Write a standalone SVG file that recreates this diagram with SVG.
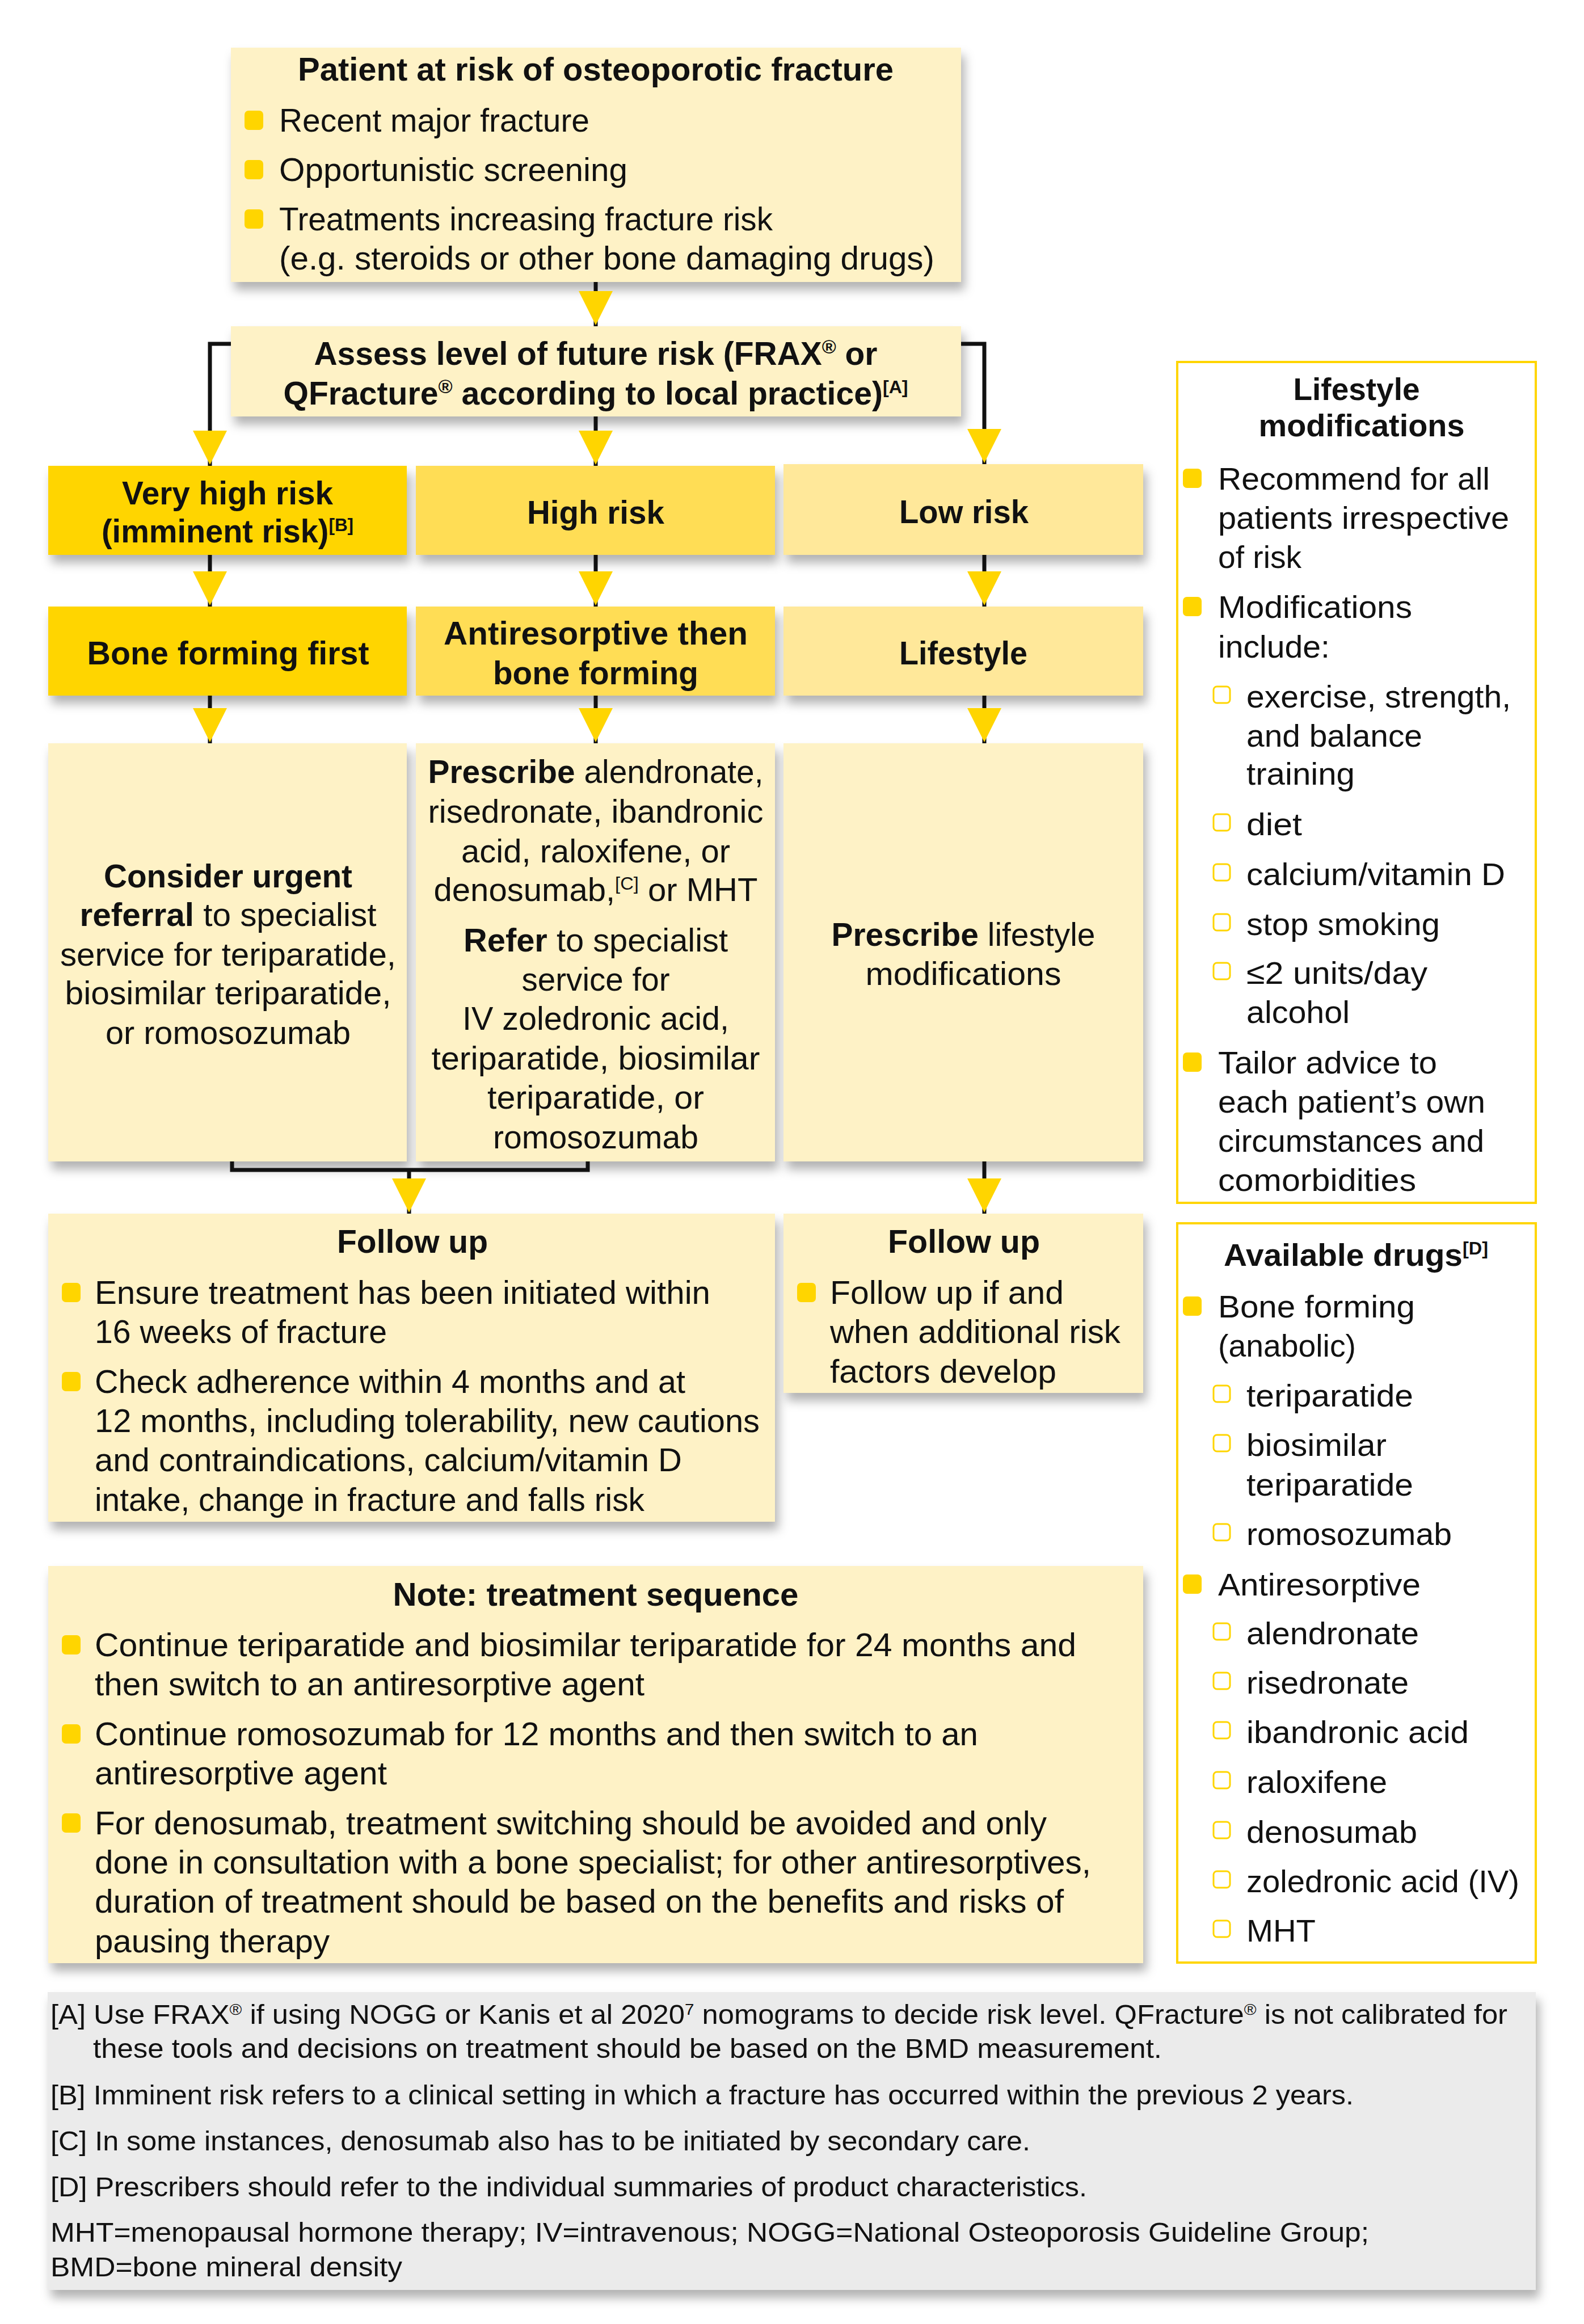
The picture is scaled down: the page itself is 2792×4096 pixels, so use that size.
<svg xmlns="http://www.w3.org/2000/svg" xmlns:xlink="http://www.w3.org/1999/xlink" width="2792" height="4096" viewBox="0 0 2792 4096">
<defs>
<filter id="sh" x="-10%" y="-10%" width="125%" height="140%">
<feDropShadow dx="6" dy="14" stdDeviation="9" flood-color="#000" flood-opacity="0.3"/>
</filter>
<path id="tri" d="M-30,0 L30,0 L0,60 Z" fill="#FFD500"/>
</defs>
<style>
text { font-family: "Liberation Sans", Arial, sans-serif; fill:#111; }
.m { font-size:57px; }
.r { font-size:56px; }
.f { font-size:48px; }
.b { font-weight:bold; }
.c { text-anchor:middle; }
.pale { fill:#FEF2C6; filter:url(#sh); }
.panel { fill:#fff; stroke:#FFD500; stroke-width:4; }
.bul { fill:#FFD500; }
.hol { fill:none; stroke:#FFD500; stroke-width:3; }
.ln { stroke:#111; stroke-width:7; fill:none; }
</style>
<rect x="0" y="0" width="2792" height="4096" fill="#fff"/>

<g id="patient">
<rect class="pale" x="407" y="84" width="1287" height="413"/>
<text class="m b c" x="1050" y="142" textLength="1050" lengthAdjust="spacingAndGlyphs">Patient at risk of osteoporotic fracture</text>
<rect class="bul" x="431" y="195" width="33" height="34" rx="7"/>
<text class="m" x="492" y="232" textLength="547" lengthAdjust="spacingAndGlyphs">Recent major fracture</text>
<rect class="bul" x="431" y="282" width="33" height="34" rx="7"/>
<text class="m" x="492" y="319" textLength="614" lengthAdjust="spacingAndGlyphs">Opportunistic screening</text>
<rect class="bul" x="431" y="369" width="33" height="34" rx="7"/>
<text class="m" x="492" y="406" textLength="870" lengthAdjust="spacingAndGlyphs">Treatments increasing fracture risk</text>
<text class="m" x="492" y="475" textLength="1155" lengthAdjust="spacingAndGlyphs">(e.g. steroids or other bone damaging drugs)</text>
</g>

<g id="assess">
<rect class="pale" x="407" y="575" width="1287" height="159"/>
<text class="m b c" x="1050" y="643" textLength="993" lengthAdjust="spacingAndGlyphs">Assess level of future risk (FRAX<tspan dy="-20" font-size="34">®</tspan><tspan dy="20"> or</tspan></text>
<text class="m b c" x="1050" y="713" textLength="1101" lengthAdjust="spacingAndGlyphs">QFracture<tspan dy="-20" font-size="34">®</tspan><tspan dy="20"> according to local practice)</tspan><tspan dy="-20" font-size="32">[A]</tspan></text>
</g>

<g id="veryhigh">
<rect x="85" y="821" width="632" height="157" fill="#FFD500" filter="url(#sh)"/>
<text class="m b c" x="401" y="889" textLength="372" lengthAdjust="spacingAndGlyphs">Very high risk</text>
<text class="m b c" x="401" y="956" textLength="444" lengthAdjust="spacingAndGlyphs">(imminent risk)<tspan dy="-20" font-size="32">[B]</tspan></text>
</g>
<g id="high">
<rect x="733" y="821" width="633" height="157" fill="#FFDD55" filter="url(#sh)"/>
<text class="m b c" x="1050" y="923" textLength="242" lengthAdjust="spacingAndGlyphs">High risk</text>
</g>
<g id="low">
<rect x="1381" y="818" width="634" height="160" fill="#FFE89A" filter="url(#sh)"/>
<text class="m b c" x="1699" y="922" textLength="228" lengthAdjust="spacingAndGlyphs">Low risk</text>
</g>

<g id="boneforming">
<rect x="85" y="1069" width="632" height="157" fill="#FFD500" filter="url(#sh)"/>
<text class="m b c" x="402" y="1171" textLength="497" lengthAdjust="spacingAndGlyphs">Bone forming first</text>
</g>
<g id="antiresorptive">
<rect x="733" y="1069" width="633" height="157" fill="#FFDD55" filter="url(#sh)"/>
<text class="m b c" x="1050" y="1136" textLength="536" lengthAdjust="spacingAndGlyphs">Antiresorptive then</text>
<text class="m b c" x="1050" y="1206" textLength="362" lengthAdjust="spacingAndGlyphs">bone forming</text>
</g>
<g id="lifestyle">
<rect x="1381" y="1069" width="634" height="157" fill="#FFE89A" filter="url(#sh)"/>
<text class="m b c" x="1698" y="1171" textLength="226" lengthAdjust="spacingAndGlyphs">Lifestyle</text>
</g>

<g id="referral">
<rect class="pale" x="85" y="1310" width="632" height="737"/>
<text class="m b c" x="402" y="1564" textLength="438" lengthAdjust="spacingAndGlyphs">Consider urgent</text>
<text class="m c" x="402" y="1632" textLength="523" lengthAdjust="spacingAndGlyphs"><tspan font-weight="bold">referral</tspan> to specialist</text>
<text class="m c" x="402" y="1702" textLength="592" lengthAdjust="spacingAndGlyphs">service for teriparatide,</text>
<text class="m c" x="402" y="1770" textLength="575" lengthAdjust="spacingAndGlyphs">biosimilar teriparatide,</text>
<text class="m c" x="402" y="1840" textLength="432" lengthAdjust="spacingAndGlyphs">or romosozumab</text>
</g>
<g id="prescribe">
<rect class="pale" x="733" y="1310" width="633" height="737"/>
<text class="m c" x="1050" y="1380" textLength="591" lengthAdjust="spacingAndGlyphs"><tspan font-weight="bold">Prescribe</tspan> alendronate,</text>
<text class="m c" x="1050" y="1450" textLength="591" lengthAdjust="spacingAndGlyphs">risedronate, ibandronic</text>
<text class="m c" x="1050" y="1520" textLength="474" lengthAdjust="spacingAndGlyphs">acid, raloxifene, or</text>
<text class="m c" x="1050" y="1588" textLength="571" lengthAdjust="spacingAndGlyphs">denosumab,<tspan dy="-20" font-size="32">[C]</tspan><tspan dy="20"> or MHT</tspan></text>
<text class="m c" x="1050" y="1677" textLength="466" lengthAdjust="spacingAndGlyphs"><tspan font-weight="bold">Refer</tspan> to specialist</text>
<text class="m c" x="1050" y="1746" textLength="261" lengthAdjust="spacingAndGlyphs">service for</text>
<text class="m c" x="1050" y="1815" textLength="470" lengthAdjust="spacingAndGlyphs">IV zoledronic acid,</text>
<text class="m c" x="1050" y="1885" textLength="579" lengthAdjust="spacingAndGlyphs">teriparatide, biosimilar</text>
<text class="m c" x="1050" y="1954" textLength="382" lengthAdjust="spacingAndGlyphs">teriparatide, or</text>
<text class="m c" x="1050" y="2024" textLength="362" lengthAdjust="spacingAndGlyphs">romosozumab</text>
</g>
<g id="prescribelifestyle">
<rect class="pale" x="1381" y="1310" width="634" height="737"/>
<text class="m c" x="1698" y="1667" textLength="465" lengthAdjust="spacingAndGlyphs"><tspan font-weight="bold">Prescribe</tspan> lifestyle</text>
<text class="m c" x="1698" y="1736" textLength="345" lengthAdjust="spacingAndGlyphs">modifications</text>
</g>

<g id="followup1">
<rect class="pale" x="85" y="2139" width="1281" height="543"/>
<text class="m b c" x="727" y="2208" textLength="266" lengthAdjust="spacingAndGlyphs">Follow up</text>
<rect class="bul" x="109" y="2261" width="33" height="34" rx="7"/>
<text class="m" x="167" y="2298" textLength="1085" lengthAdjust="spacingAndGlyphs">Ensure treatment has been initiated within</text>
<text class="m" x="167" y="2367" textLength="515" lengthAdjust="spacingAndGlyphs">16 weeks of fracture</text>
<rect class="bul" x="109" y="2418" width="33" height="34" rx="7"/>
<text class="m" x="167" y="2455" textLength="1041" lengthAdjust="spacingAndGlyphs">Check adherence within 4 months and at</text>
<text class="m" x="167" y="2524" textLength="1172" lengthAdjust="spacingAndGlyphs">12 months, including tolerability, new cautions</text>
<text class="m" x="167" y="2593" textLength="1035" lengthAdjust="spacingAndGlyphs">and contraindications, calcium/vitamin D</text>
<text class="m" x="167" y="2663" textLength="969" lengthAdjust="spacingAndGlyphs">intake, change in fracture and falls risk</text>
</g>
<g id="followup2">
<rect class="pale" x="1381" y="2139" width="634" height="316"/>
<text class="m b c" x="1699" y="2208" textLength="268" lengthAdjust="spacingAndGlyphs">Follow up</text>
<rect class="bul" x="1405" y="2261" width="33" height="34" rx="7"/>
<text class="m" x="1463" y="2298" textLength="412" lengthAdjust="spacingAndGlyphs">Follow up if and</text>
<text class="m" x="1463" y="2367" textLength="512" lengthAdjust="spacingAndGlyphs">when additional risk</text>
<text class="m" x="1463" y="2437" textLength="399" lengthAdjust="spacingAndGlyphs">factors develop</text>
</g>

<g id="note">
<rect class="pale" x="85" y="2760" width="1930" height="700"/>
<text class="m b c" x="1050" y="2830" textLength="715" lengthAdjust="spacingAndGlyphs">Note: treatment sequence</text>
<rect class="bul" x="109" y="2882" width="33" height="34" rx="7"/>
<text class="m" x="167" y="2919" textLength="1730" lengthAdjust="spacingAndGlyphs">Continue teriparatide and biosimilar teriparatide for 24 months and</text>
<text class="m" x="167" y="2988" textLength="969" lengthAdjust="spacingAndGlyphs">then switch to an antiresorptive agent</text>
<rect class="bul" x="109" y="3039" width="33" height="34" rx="7"/>
<text class="m" x="167" y="3076" textLength="1557" lengthAdjust="spacingAndGlyphs">Continue romosozumab for 12 months and then switch to an</text>
<text class="m" x="167" y="3145" textLength="515" lengthAdjust="spacingAndGlyphs">antiresorptive agent</text>
<rect class="bul" x="109" y="3196" width="33" height="34" rx="7"/>
<text class="m" x="167" y="3233" textLength="1678" lengthAdjust="spacingAndGlyphs">For denosumab, treatment switching should be avoided and only</text>
<text class="m" x="167" y="3302" textLength="1756" lengthAdjust="spacingAndGlyphs">done in consultation with a bone specialist; for other antiresorptives,</text>
<text class="m" x="167" y="3371" textLength="1708" lengthAdjust="spacingAndGlyphs">duration of treatment should be based on the benefits and risks of</text>
<text class="m" x="167" y="3441" textLength="414" lengthAdjust="spacingAndGlyphs">pausing therapy</text>
</g>

<g id="lifestylemods">
<rect class="panel" x="2075" y="638" width="632" height="1482"/>
<text class="r b c" x="2391" y="705" textLength="223" lengthAdjust="spacingAndGlyphs">Lifestyle</text>
<text class="r b c" x="2400" y="769" textLength="363" lengthAdjust="spacingAndGlyphs">modifications</text>
<rect class="bul" x="2085" y="826" width="33" height="34" rx="7"/>
<text class="r" x="2147" y="863" textLength="479" lengthAdjust="spacingAndGlyphs">Recommend for all</text>
<text class="r" x="2147" y="932" textLength="513" lengthAdjust="spacingAndGlyphs">patients irrespective</text>
<text class="r" x="2147" y="1001" textLength="147" lengthAdjust="spacingAndGlyphs">of risk</text>
<rect class="bul" x="2085" y="1052" width="33" height="34" rx="7"/>
<text class="r" x="2147" y="1089" textLength="342" lengthAdjust="spacingAndGlyphs">Modifications</text>
<text class="r" x="2147" y="1159" textLength="197" lengthAdjust="spacingAndGlyphs">include:</text>
<rect class="hol" x="2139" y="1210" width="29" height="29" rx="6"/>
<text class="r" x="2197" y="1247" textLength="466" lengthAdjust="spacingAndGlyphs">exercise, strength,</text>
<text class="r" x="2197" y="1316" textLength="310" lengthAdjust="spacingAndGlyphs">and balance</text>
<text class="r" x="2197" y="1383" textLength="191" lengthAdjust="spacingAndGlyphs">training</text>
<rect class="hol" x="2139" y="1435" width="29" height="29" rx="6"/>
<text class="r" x="2197" y="1472" textLength="98" lengthAdjust="spacingAndGlyphs">diet</text>
<rect class="hol" x="2139" y="1523" width="29" height="29" rx="6"/>
<text class="r" x="2197" y="1560" textLength="456" lengthAdjust="spacingAndGlyphs">calcium/vitamin D</text>
<rect class="hol" x="2139" y="1611" width="29" height="29" rx="6"/>
<text class="r" x="2197" y="1648" textLength="341" lengthAdjust="spacingAndGlyphs">stop smoking</text>
<rect class="hol" x="2139" y="1697" width="29" height="29" rx="6"/>
<text class="r" x="2197" y="1734" textLength="319" lengthAdjust="spacingAndGlyphs">≤2 units/day</text>
<text class="r" x="2197" y="1803" textLength="182" lengthAdjust="spacingAndGlyphs">alcohol</text>
<rect class="bul" x="2085" y="1855" width="33" height="34" rx="7"/>
<text class="r" x="2147" y="1892" textLength="386" lengthAdjust="spacingAndGlyphs">Tailor advice to</text>
<text class="r" x="2147" y="1961" textLength="471" lengthAdjust="spacingAndGlyphs">each patient’s own</text>
<text class="r" x="2147" y="2030" textLength="469" lengthAdjust="spacingAndGlyphs">circumstances and</text>
<text class="r" x="2147" y="2099" textLength="349" lengthAdjust="spacingAndGlyphs">comorbidities</text>
</g>

<g id="drugs">
<rect class="panel" x="2075" y="2156" width="632" height="1303"/>
<text class="r b c" x="2390" y="2231" textLength="466" lengthAdjust="spacingAndGlyphs">Available drugs<tspan dy="-20" font-size="32">[D]</tspan></text>
<rect class="bul" x="2085" y="2285" width="33" height="34" rx="7"/>
<text class="r" x="2147" y="2322" textLength="347" lengthAdjust="spacingAndGlyphs">Bone forming</text>
<text class="r" x="2147" y="2391" textLength="243" lengthAdjust="spacingAndGlyphs">(anabolic)</text>
<rect class="hol" x="2139" y="2442" width="29" height="29" rx="6"/>
<text class="r" x="2197" y="2479" textLength="294" lengthAdjust="spacingAndGlyphs">teriparatide</text>
<rect class="hol" x="2139" y="2529" width="29" height="29" rx="6"/>
<text class="r" x="2197" y="2566" textLength="247" lengthAdjust="spacingAndGlyphs">biosimilar</text>
<text class="r" x="2197" y="2636" textLength="294" lengthAdjust="spacingAndGlyphs">teriparatide</text>
<rect class="hol" x="2139" y="2686" width="29" height="29" rx="6"/>
<text class="r" x="2197" y="2723" textLength="362" lengthAdjust="spacingAndGlyphs">romosozumab</text>
<rect class="bul" x="2085" y="2775" width="33" height="34" rx="7"/>
<text class="r" x="2147" y="2812" textLength="357" lengthAdjust="spacingAndGlyphs">Antiresorptive</text>
<rect class="hol" x="2139" y="2861" width="29" height="29" rx="6"/>
<text class="r" x="2197" y="2898" textLength="304" lengthAdjust="spacingAndGlyphs">alendronate</text>
<rect class="hol" x="2139" y="2948" width="29" height="29" rx="6"/>
<text class="r" x="2197" y="2985" textLength="286" lengthAdjust="spacingAndGlyphs">risedronate</text>
<rect class="hol" x="2139" y="3035" width="29" height="29" rx="6"/>
<text class="r" x="2197" y="3072" textLength="392" lengthAdjust="spacingAndGlyphs">ibandronic acid</text>
<rect class="hol" x="2139" y="3123" width="29" height="29" rx="6"/>
<text class="r" x="2197" y="3160" textLength="248" lengthAdjust="spacingAndGlyphs">raloxifene</text>
<rect class="hol" x="2139" y="3211" width="29" height="29" rx="6"/>
<text class="r" x="2197" y="3248" textLength="301" lengthAdjust="spacingAndGlyphs">denosumab</text>
<rect class="hol" x="2139" y="3298" width="29" height="29" rx="6"/>
<text class="r" x="2197" y="3335" textLength="481" lengthAdjust="spacingAndGlyphs">zoledronic acid (IV)</text>
<rect class="hol" x="2139" y="3385" width="29" height="29" rx="6"/>
<text class="r" x="2197" y="3422" textLength="122" lengthAdjust="spacingAndGlyphs">MHT</text>
</g>

<g id="footnotes">
<rect x="84" y="3511" width="2623" height="525" fill="#EBEBEB" filter="url(#sh)"/>
<text class="f" x="89" y="3567" textLength="2568" lengthAdjust="spacingAndGlyphs">[A] Use FRAX<tspan dy="-16" font-size="28">®</tspan><tspan dy="16"> if using NOGG or Kanis et al 2020</tspan><tspan dy="-16" font-size="28">7</tspan><tspan dy="16"> nomograms to decide risk level. QFracture</tspan><tspan dy="-16" font-size="28">®</tspan><tspan dy="16"> is not calibrated for</tspan></text>
<text class="f" x="164" y="3627" textLength="1884" lengthAdjust="spacingAndGlyphs">these tools and decisions on treatment should be based on the BMD measurement.</text>
<text class="f" x="89" y="3709" textLength="2297" lengthAdjust="spacingAndGlyphs">[B] Imminent risk refers to a clinical setting in which a fracture has occurred within the previous 2 years.</text>
<text class="f" x="89" y="3790" textLength="1727" lengthAdjust="spacingAndGlyphs">[C] In some instances, denosumab also has to be initiated by secondary care.</text>
<text class="f" x="89" y="3871" textLength="1827" lengthAdjust="spacingAndGlyphs">[D] Prescribers should refer to the individual summaries of product characteristics.</text>
<text class="f" x="89" y="3951" textLength="2324" lengthAdjust="spacingAndGlyphs">MHT=menopausal hormone therapy; IV=intravenous; NOGG=National Osteoporosis Guideline Group;</text>
<text class="f" x="89" y="4012" textLength="620" lengthAdjust="spacingAndGlyphs">BMD=bone mineral density</text>
</g>

<g id="connectors">
<path class="ln" d="M1050,497 V575"/>
<path class="ln" d="M407,606 H370 V821"/>
<path class="ln" d="M1694,606 H1735 V818"/>
<path class="ln" d="M1050,734 V821"/>
<path class="ln" d="M370,978 V1069 M1050,978 V1069 M1735,978 V1069"/>
<path class="ln" d="M370,1226 V1310 M1050,1226 V1310 M1735,1226 V1310"/>
<path class="ln" d="M409,2047 V2062 H1036 V2047 M721,2062 V2139"/>
<path class="ln" d="M1735,2047 V2139"/>
<use xlink:href="#tri" x="1050" y="513"/>
<use xlink:href="#tri" x="370" y="759"/>
<use xlink:href="#tri" x="1050" y="759"/>
<use xlink:href="#tri" x="1735" y="756"/>
<use xlink:href="#tri" x="370" y="1007"/>
<use xlink:href="#tri" x="1050" y="1007"/>
<use xlink:href="#tri" x="1735" y="1007"/>
<use xlink:href="#tri" x="370" y="1248"/>
<use xlink:href="#tri" x="1050" y="1248"/>
<use xlink:href="#tri" x="1735" y="1248"/>
<use xlink:href="#tri" x="721" y="2077"/>
<use xlink:href="#tri" x="1735" y="2077"/>
</g>
</svg>
